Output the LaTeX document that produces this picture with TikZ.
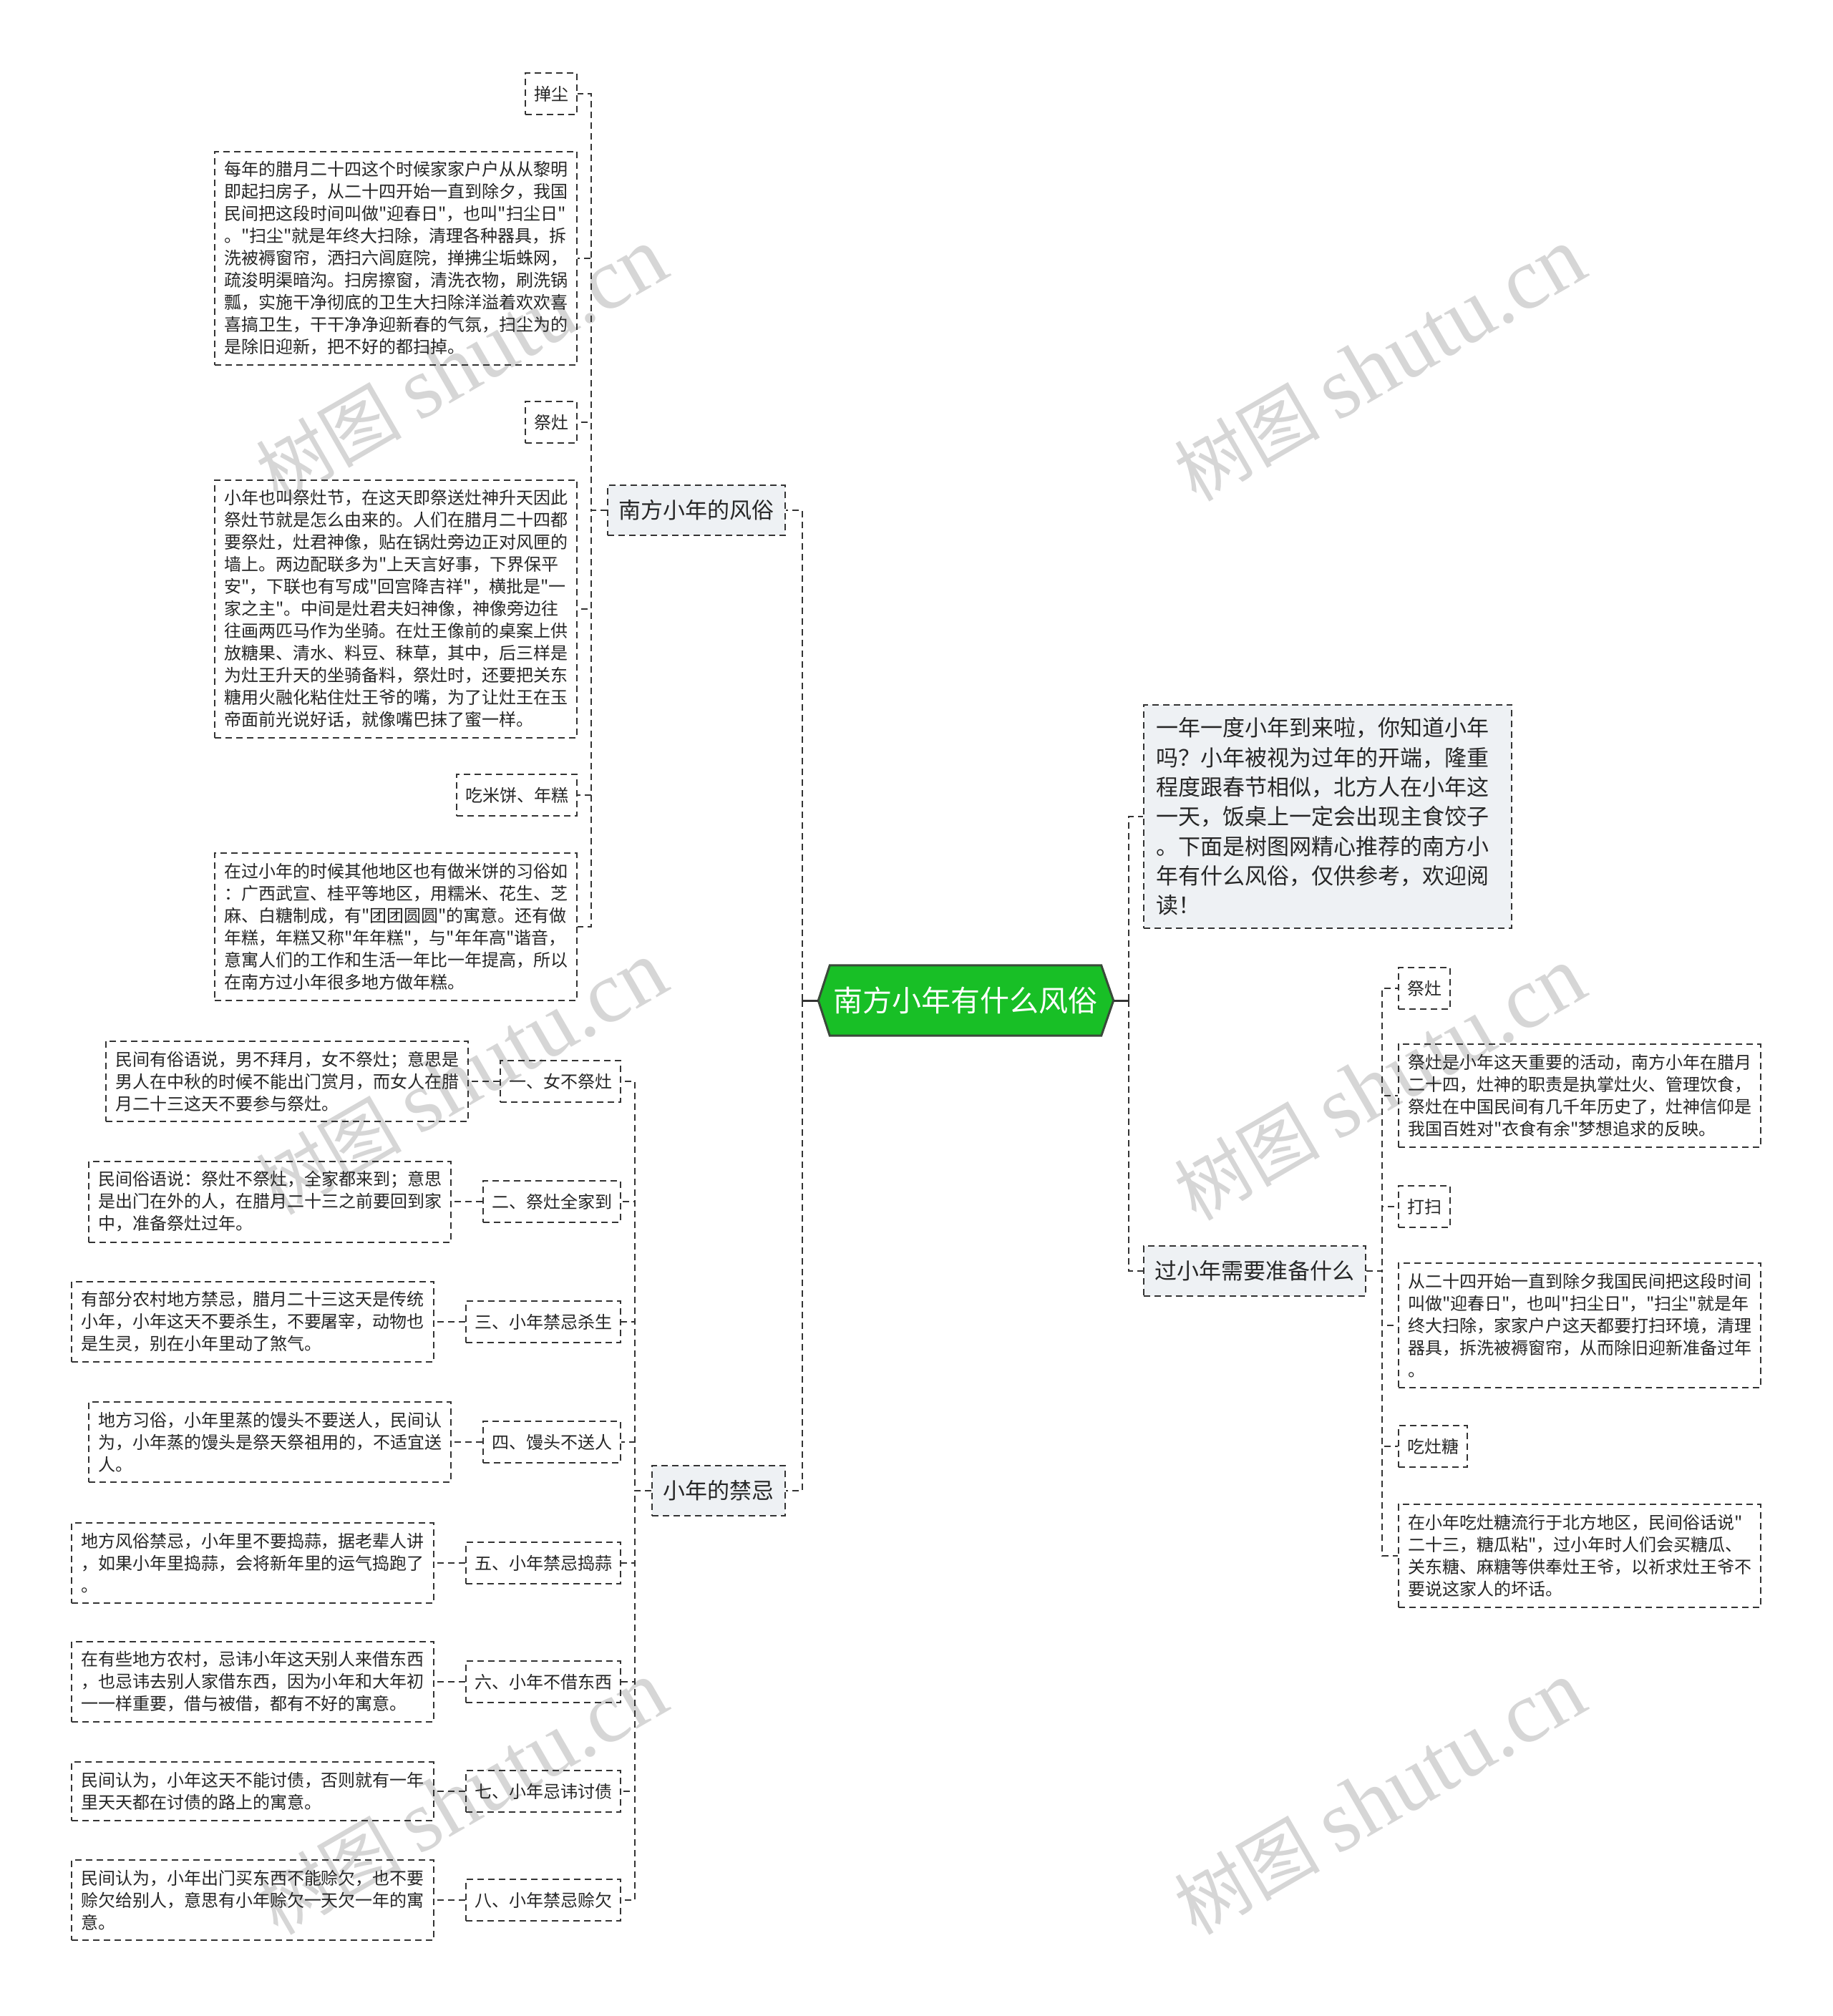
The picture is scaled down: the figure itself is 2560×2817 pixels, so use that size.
\documentclass[tikz,border=0pt]{standalone}
\usepackage{fontspec}
\newfontfamily\cjkf{Noto Sans CJK SC}
\newfontfamily\wmlatin{Liberation Serif}
\usetikzlibrary{backgrounds,calc}
\definecolor{lineC}{HTML}{333333}
\definecolor{txtC}{HTML}{262626}
\definecolor{rootG}{HTML}{18BF26}
\definecolor{rootB}{HTML}{3A4A3A}
\definecolor{branchF}{HTML}{EEF1F4}
\definecolor{wmC}{HTML}{D6D6D6}
\tikzset{
  conn/.style={draw=lineC, line width=2pt, dash pattern=on 9pt off 6pt},
  stub/.style={draw=lineC, line width=3pt},
  box/.style={draw=lineC, line width=2pt, dash pattern=on 9pt off 6pt, text=txtC},
  detail/.style={box, text width=480pt, align=left, inner xsep=13pt, inner ysep=14pt, font=\cjkf\fontsize{24}{31}\selectfont},
  lbl/.style={box, inner xsep=12pt, inner ysep=0pt, minimum height=58pt, font=\cjkf\fontsize{24}{31}\selectfont},
  branch/.style={box, fill=branchF, inner xsep=15.5pt, inner ysep=0pt, minimum height=70pt, font=\cjkf\fontsize{31}{37}\selectfont},
  introbox/.style={box, fill=branchF, text width=480pt, align=left, inner xsep=17pt, inner ysep=18pt, font=\cjkf\fontsize{31}{41.3}\selectfont},
  rootnode/.style={text=white, inner sep=0pt, minimum width=379pt, minimum height=98pt, font=\cjkf\fontsize{41}{48}\selectfont},
  wm/.style={text=wmC, rotate=30, inner sep=0pt}
}
\begin{document}
\begin{tikzpicture}[x=1pt,y=-1pt]
\useasboundingbox (0,0) rectangle (2560,2817);

% root
\node[rootnode] (root) at (1349,1398) {南方小年有什么风俗};
\coordinate (rootW) at ($(root.west)+(-16,0)$);
\coordinate (rootE) at ($(root.east)+(17,0)$);
\coordinate (sL) at (1121,1398);
\coordinate (sR) at (1577,1398);

% branches
\node[branch, anchor=east] (b1) at (1098,713) {南方小年的风俗};
\node[branch, anchor=east] (b2) at (1098,2083) {小年的禁忌};
\node[introbox, anchor=west] (intro) at (1597,1141) {一年一度小年到来啦，你知道小年\\吗？小年被视为过年的开端，隆重\\程度跟春节相似，北方人在小年这\\一天，饭桌上一定会出现主食饺子\\。下面是树图网精心推荐的南方小\\年有什么风俗，仅供参考，欢迎阅\\读！};
\node[branch, anchor=west] (b3) at (1597,1776) {过小年需要准备什么};

% top-left group
\node[lbl, anchor=east] (t1) at (807,131) {掸尘};
\node[detail, anchor=east] (t2) at (807,361) {每年的腊月二十四这个时候家家户户从从黎明\\即起扫房子，从二十四开始一直到除夕，我国\\民间把这段时间叫做"迎春日"，也叫"扫尘日"\\。"扫尘"就是年终大扫除，清理各种器具，拆\\洗被褥窗帘，洒扫六闾庭院，掸拂尘垢蛛网，\\疏浚明渠暗沟。扫房擦窗，清洗衣物，刷洗锅\\瓢，实施干净彻底的卫生大扫除洋溢着欢欢喜\\喜搞卫生，干干净净迎新春的气氛，扫尘为的\\是除旧迎新，把不好的都扫掉。};
\node[lbl, anchor=east] (t3) at (807,590) {祭灶};
\node[detail, anchor=east] (t4) at (807,851) {小年也叫祭灶节，在这天即祭送灶神升天因此\\祭灶节就是怎么由来的。人们在腊月二十四都\\要祭灶，灶君神像，贴在锅灶旁边正对风匣的\\墙上。两边配联多为"上天言好事，下界保平\\安"，下联也有写成"回宫降吉祥"，横批是"一\\家之主"。中间是灶君夫妇神像，神像旁边往\\往画两匹马作为坐骑。在灶王像前的桌案上供\\放糖果、清水、料豆、秣草，其中，后三样是\\为灶王升天的坐骑备料，祭灶时，还要把关东\\糖用火融化粘住灶王爷的嘴，为了让灶王在玉\\帝面前光说好话，就像嘴巴抹了蜜一样。};
\node[lbl, anchor=east] (t5) at (807,1111) {吃米饼、年糕};
\node[detail, anchor=east] (t6) at (807,1295) {在过小年的时候其他地区也有做米饼的习俗如\\：广西武宣、桂平等地区，用糯米、花生、芝\\麻、白糖制成，有"团团圆圆"的寓意。还有做\\年糕，年糕又称"年年糕"，与"年年高"谐音，\\意寓人们的工作和生活一年比一年提高，所以\\在南方过小年很多地方做年糕。};

% right group
\node[lbl, anchor=west] (r1) at (1953,1381) {祭灶};
\node[detail, anchor=west] (r2) at (1953,1531) {祭灶是小年这天重要的活动，南方小年在腊月\\二十四，灶神的职责是执掌灶火、管理饮食，\\祭灶在中国民间有几千年历史了，灶神信仰是\\我国百姓对"衣食有余"梦想追求的反映。};
\node[lbl, anchor=west] (r3) at (1953,1686) {打扫};
\node[detail, anchor=west] (r4) at (1953,1852) {从二十四开始一直到除夕我国民间把这段时间\\叫做"迎春日"，也叫"扫尘日"，"扫尘"就是年\\终大扫除，家家户户这天都要打扫环境，清理\\器具，拆洗被褥窗帘，从而除旧迎新准备过年\\。};
\node[lbl, anchor=west] (r5) at (1953,2021) {吃灶糖};
\node[detail, anchor=west] (r6) at (1953,2174) {在小年吃灶糖流行于北方地区，民间俗话说"\\二十三，糖瓜粘"，过小年时人们会买糖瓜、\\关东糖、麻糖等供奉灶王爷，以祈求灶王爷不\\要说这家人的坏话。};

% bottom-left group
\node[lbl, anchor=east] (k1) at (868,1511) {一、女不祭灶};
\node[lbl, anchor=east] (k2) at (868,1679) {二、祭灶全家到};
\node[lbl, anchor=east] (k3) at (868,1847) {三、小年禁忌杀生};
\node[lbl, anchor=east] (k4) at (868,2015) {四、馒头不送人};
\node[lbl, anchor=east] (k5) at (868,2184) {五、小年禁忌捣蒜};
\node[lbl, anchor=east] (k6) at (868,2350) {六、小年不借东西};
\node[lbl, anchor=east] (k7) at (868,2503) {七、小年忌讳讨债};
\node[lbl, anchor=east] (k8) at (868,2655) {八、小年禁忌赊欠};

\node[detail, anchor=east] (d1) at ($(k1.west)+(-43,0)$) {民间有俗语说，男不拜月，女不祭灶；意思是\\男人在中秋的时候不能出门赏月，而女人在腊\\月二十三这天不要参与祭灶。};
\node[detail, anchor=east] (d2) at ($(k2.west)+(-43,0)$) {民间俗语说：祭灶不祭灶，全家都来到；意思\\是出门在外的人，在腊月二十三之前要回到家\\中，准备祭灶过年。};
\node[detail, anchor=east] (d3) at ($(k3.west)+(-43,0)$) {有部分农村地方禁忌，腊月二十三这天是传统\\小年，小年这天不要杀生，不要屠宰，动物也\\是生灵，别在小年里动了煞气。};
\node[detail, anchor=east] (d4) at ($(k4.west)+(-43,0)$) {地方习俗，小年里蒸的馒头不要送人，民间认\\为，小年蒸的馒头是祭天祭祖用的，不适宜送\\人。};
\node[detail, anchor=east] (d5) at ($(k5.west)+(-43,0)$) {地方风俗禁忌，小年里不要捣蒜，据老辈人讲\\，如果小年里捣蒜，会将新年里的运气捣跑了\\。};
\node[detail, anchor=east] (d6) at ($(k6.west)+(-43,0)$) {在有些地方农村，忌讳小年这天别人来借东西\\，也忌讳去别人家借东西，因为小年和大年初\\一一样重要，借与被借，都有不好的寓意。};
\node[detail, anchor=east] (d7) at ($(k7.west)+(-43,0)$) {民间认为，小年这天不能讨债，否则就有一年\\里天天都在讨债的路上的寓意。};
\node[detail, anchor=east] (d8) at ($(k8.west)+(-43,0)$) {民间认为，小年出门买东西不能赊欠，也不要\\赊欠给别人，意思有小年赊欠一天欠一年的寓\\意。};

% connectors from root
\draw[stub] (rootW) -- (sL);
\draw[stub] (rootE) -- (sR);
\draw[conn] (sL) |- (b1.east);
\draw[conn] (sL) |- (b2.east);
\draw[conn] (sR) |- (intro.west);
\draw[conn] (sR) |- (b3.west);

\foreach \c in {t1,t2,t3,t4,t5,t6}
  \draw[conn] (b1.west) -- ++(-22,0) |- (\c.east);
\foreach \c in {r1,r2,r3,r4,r5,r6}
  \draw[conn] (b3.east) -- ++(22,0) |- (\c.west);
\foreach \c in {k1,k2,k3,k4,k5,k6,k7,k8}
  \draw[conn] (b2.west) -- ++(-23,0) |- (\c.east);
\foreach \k/\d in {k1/d1,k2/d2,k3/d3,k4/d4,k5/d5,k6/d6,k7/d7,k8/d8}
  \draw[conn] (\k.west) -- (\d.east);

\begin{scope}[on background layer]
  \fill[white] (0,0) rectangle (2560,2817);
  \foreach \n/\x/\y in {w1/645/510, w2/1928/510, w3/645/1507, w4/1928/1515, w5/645/2513, w6/1928/2513}
    \node[wm] (\n) at (\x,\y) {\cjkf\fontsize{102}{110}\selectfont 树图 {\wmlatin\fontsize{122}{124}\selectfont shutu.cn}};
  \filldraw[fill=rootG, draw=rootB, line width=3pt] (root.north west) -- (root.north east) -- (rootE) -- (root.south east) -- (root.south west) -- (rootW) -- cycle;
\end{scope}
\end{tikzpicture}
\end{document}
